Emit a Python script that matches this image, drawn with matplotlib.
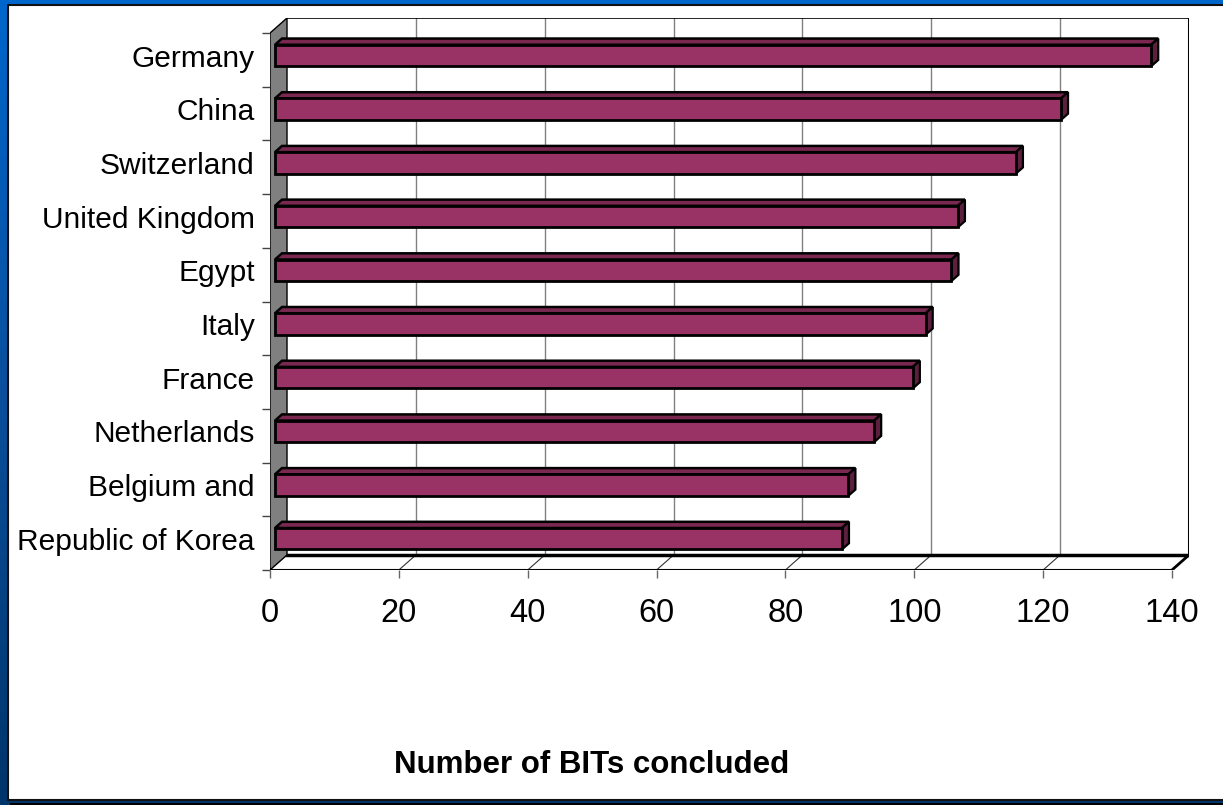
import numpy as np
import matplotlib
matplotlib.use('Agg')
import matplotlib.pyplot as plt
from matplotlib.patches import Rectangle, Polygon

# data, top to bottom as shown
countries = ['Germany', 'China', 'Switzerland', 'United Kingdom', 'Egypt',
             'Italy', 'France', 'Netherlands', 'Belgium and', 'Republic of Korea']
bits = [136, 122, 115, 106, 105, 101, 99, 93, 89, 88]
xticks = [0, 20, 40, 60, 80, 100, 120, 140]
xlabel = 'Number of BITs concluded'

plt.rcParams['font.family'] = ['Liberation Sans', 'DejaVu Sans']

W, H = 1223, 805
fig = plt.figure(figsize=(W / 100, H / 100), dpi=100)

# blue slide background + white panel
bg = fig.add_axes([0, 0, 1, 1])
grad = np.linspace(0, 1, 256).reshape(-1, 1)
cmap = matplotlib.colors.LinearSegmentedColormap.from_list('bl', ['#0066cc', '#0a4f9c', '#00356b'])
bg.imshow(grad, aspect='auto', cmap=cmap, extent=[0, 1, 0, 1])
bg.set_xlim(0, 1)
bg.set_ylim(0, 1)
bg.axis('off')
bg.add_patch(Rectangle((10 / W, -0.01), 1, 0.01 + 1 - 803 / H, facecolor='black',
                       edgecolor='none', clip_on=False))
px0, py0, py1 = 8 / W, 1 - 800 / H, 1 - 5 / H
bg.add_patch(Rectangle((px0, py0), 1.05 - px0, py1 - py0, facecolor='white',
                       edgecolor='none', clip_on=False))
bg.plot([1.05, px0, px0, 1.05], [py1, py1, py0, py0], color='#111111', lw=1.5, clip_on=False)

# chart axes: front plane x 0..140, back plane shifted by DX, DY
DX, DY = 2.64, 0.28
n = len(countries)
ax = fig.add_axes([270 / W, 1 - 570 / H, (1189 - 270) / W, (570 - 18) / H])
ax.set_xlim(0, 140 + DX)
ax.set_ylim(0, n + DY)
ax.patch.set_alpha(0)
for s in ax.spines.values():
    s.set_visible(False)

xmax = xticks[-1]

# back wall
ax.add_patch(Rectangle((DX, DY), xmax, n, facecolor='white', edgecolor='none', zorder=1))
for v in xticks[1:]:
    ax.plot([v + DX, v + DX], [DY, n + DY], color='#808080', lw=1, zorder=2)
ax.plot([DX, xmax + DX], [n + DY, n + DY], color='black', lw=1.2, zorder=3)
ax.plot([xmax + DX, xmax + DX], [DY, n + DY], color='black', lw=2.2, zorder=3)

# floor
ax.add_patch(Polygon([(0, 0), (xmax, 0), (xmax + DX, DY), (DX, DY)],
                     facecolor='white', edgecolor='none', zorder=2))
for v in xticks[1:-1]:
    ax.plot([v, v + DX], [0, DY], color='#333333', lw=0.8, zorder=3)
ax.plot([0, xmax], [0, 0], color='black', lw=1.5, zorder=3)
ax.plot([xmax, xmax + DX], [0, DY], color='black', lw=2, zorder=3)
ax.plot([DX, xmax + DX], [DY, DY], color='black', lw=2.5, zorder=3)

# left wall
ax.add_patch(Polygon([(0, 0), (DX, DY), (DX, n + DY), (0, n)],
                     facecolor='#808080', edgecolor='black', lw=1, zorder=4))

# 3d bars
D0, D1 = 5 / 17, 12 / 17
h = 0.40
ddx, ddy = (D1 - D0) * DX, (D1 - D0) * DY
for i, (name, v) in enumerate(zip(countries, bits)):
    k = n - 1 - i
    x0 = D0 * DX
    y0 = k + 0.5 - h / 2 + D0 * DY
    ax.add_patch(Polygon([(x0, y0 + h), (x0 + v, y0 + h), (x0 + v + ddx, y0 + h + ddy),
                          (x0 + ddx, y0 + h + ddy)],
                         facecolor='#7a2850', edgecolor='black', lw=1.8,
                         joinstyle='miter', zorder=5))
    ax.add_patch(Polygon([(x0 + v, y0), (x0 + v + ddx, y0 + ddy), (x0 + v + ddx, y0 + h + ddy),
                          (x0 + v, y0 + h)],
                         facecolor='#5c1f3d', edgecolor='black', lw=1.6, zorder=5))
    ax.add_patch(Rectangle((x0, y0), v, h, facecolor='#993366', edgecolor='black',
                           lw=2, zorder=6))

# ticks
ax.set_yticks(range(n + 1))
ax.set_yticks([k + 0.58 for k in range(n)], minor=True)
ax.set_yticklabels(countries[::-1], minor=True)
ax.tick_params(axis='y', which='major', length=6, width=1, color='#444444', labelleft=False)
ax.tick_params(axis='y', which='minor', length=0, pad=11, labelsize=21.5)
ax.set_xticks(xticks)
ax.set_xticklabels([str(t) for t in xticks])
ax.tick_params(axis='x', which='major', length=6, width=1, color='#666666', pad=14, labelsize=23.5)

fig.text(592 / W, 1 - 765 / H, xlabel, ha='center', va='center',
         fontsize=22.5, fontweight='bold')

fig.savefig('out.png', dpi=100)
